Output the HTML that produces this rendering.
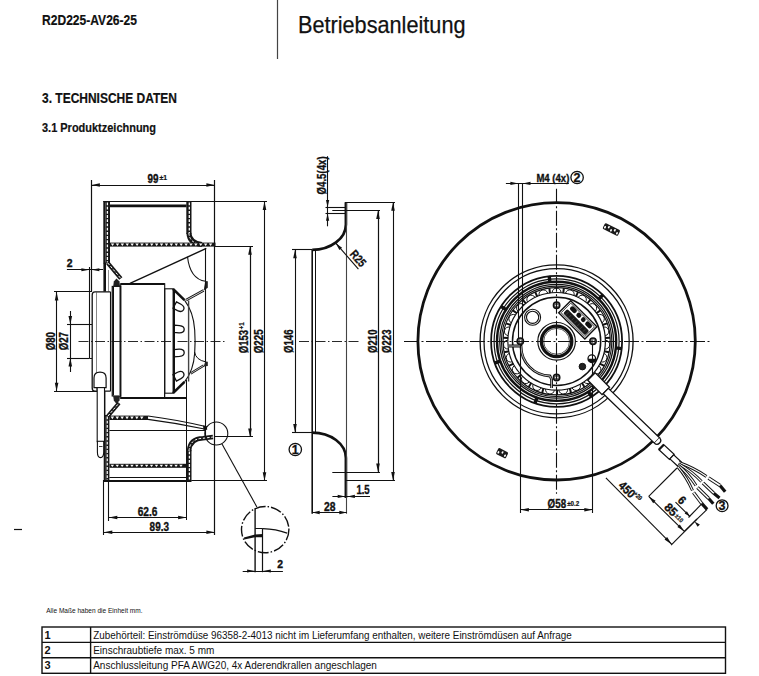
<!DOCTYPE html>
<html><head><meta charset="utf-8"><style>
html,body{margin:0;padding:0;background:#fff;overflow:hidden;}
svg{display:block;font-family:"Liberation Sans",sans-serif;}
</style></head><body>
<svg width="759" height="676" viewBox="0 0 759 676" fill="#111">
<text x="42" y="25" font-size="14" font-weight="bold" textLength="95" lengthAdjust="spacingAndGlyphs" stroke="#111" stroke-width="0.2">R2D225-AV26-25</text>
<line x1="277.50" y1="0.00" x2="277.50" y2="59.00" stroke="#444" stroke-width="1.2" />
<text x="298" y="33" font-size="24" textLength="167.5" lengthAdjust="spacingAndGlyphs" stroke="#111" stroke-width="0.25">Betriebsanleitung</text>
<text x="42" y="102.8" font-size="13.8" font-weight="bold" textLength="135" lengthAdjust="spacingAndGlyphs" stroke="#111" stroke-width="0.2">3. TECHNISCHE DATEN</text>
<text x="42" y="132.4" font-size="12.4" font-weight="bold" textLength="114" lengthAdjust="spacingAndGlyphs" stroke="#111" stroke-width="0.2">3.1 Produktzeichnung</text>
<line x1="91.50" y1="180.00" x2="91.50" y2="292.00" stroke="#111" stroke-width="1.2" />
<line x1="214.50" y1="180.00" x2="214.50" y2="535.00" stroke="#111" stroke-width="1.2" />
<line x1="91.40" y1="185.50" x2="214.90" y2="185.50" stroke="#111" stroke-width="1.1" />
<polygon points="91.40,185.00 99.90,183.20 99.90,186.80" fill="#111"/>
<polygon points="214.90,185.00 206.40,186.80 206.40,183.20" fill="#111"/>
<text x="147.6" y="182.5" font-size="12" font-weight="bold" text-anchor="start" textLength="11" lengthAdjust="spacingAndGlyphs" stroke="#111" stroke-width="0.35">99</text>
<text x="159.6" y="179.6" font-size="6.5" font-weight="bold" text-anchor="start" textLength="7.6" lengthAdjust="spacingAndGlyphs" stroke="#111" stroke-width="0.2">±1</text>
<line x1="103.30" y1="201.50" x2="267.00" y2="201.50" stroke="#111" stroke-width="1.2" />
<line x1="110.00" y1="205.80" x2="186.50" y2="205.80" stroke="#111" stroke-width="2.8" />
<rect x="103.3" y="201" width="6.70" height="62.50" fill="#161616"/>
<line x1="107.40" y1="202.50" x2="107.40" y2="262.50" stroke="#fff" stroke-width="1.3" stroke-dasharray="2.8 1.4"/>
<line x1="105.60" y1="202.50" x2="105.60" y2="262.50" stroke="#666" stroke-width="0.8"/>
<line x1="104.70" y1="263.00" x2="104.70" y2="291.60" stroke="#111" stroke-width="2.6" />
<line x1="108.50" y1="270.00" x2="108.50" y2="291.60" stroke="#777" stroke-width="0.8" />
<path d="M107.8,263 L120.8,278.5" fill="none" stroke="#161616" stroke-width="4.2"/>
<path d="M107.8,263 L120.8,278.5" fill="none" stroke="#fff" stroke-width="1" stroke-dasharray="2.6 1.6"/>
<path d="M113.2,286.2 L113.8,281.5 L116.5,278.5 L119.5,281.5 L120,286.2 Z" fill="#222"/>
<rect x="186.3" y="201" width="5.20" height="33.00" fill="#161616"/>
<line x1="189.30" y1="202.50" x2="189.30" y2="233.00" stroke="#fff" stroke-width="1.3" stroke-dasharray="2.8 1.4"/>
<path d="M188.9,233 Q189.5,243.5 202,244.5" fill="none" stroke="#161616" stroke-width="5"/>
<path d="M188.9,233 Q189.5,243.5 202,244.5" fill="none" stroke="#fff" stroke-width="1" stroke-dasharray="2.6 1.6"/>
<rect x="109.6" y="242.6" width="105.90" height="4.00" fill="#161616"/>
<polygon points="110.80,243.50 114.30,243.50 112.55,245.90" fill="#fff"/>
<polygon points="115.70,243.50 119.20,243.50 117.45,245.90" fill="#fff"/>
<polygon points="120.60,243.50 124.10,243.50 122.35,245.90" fill="#fff"/>
<polygon points="125.50,243.50 129.00,243.50 127.25,245.90" fill="#fff"/>
<polygon points="130.40,243.50 133.90,243.50 132.15,245.90" fill="#fff"/>
<polygon points="135.30,243.50 138.80,243.50 137.05,245.90" fill="#fff"/>
<polygon points="140.20,243.50 143.70,243.50 141.95,245.90" fill="#fff"/>
<polygon points="145.10,243.50 148.60,243.50 146.85,245.90" fill="#fff"/>
<polygon points="150.00,243.50 153.50,243.50 151.75,245.90" fill="#fff"/>
<polygon points="154.90,243.50 158.40,243.50 156.65,245.90" fill="#fff"/>
<polygon points="159.80,243.50 163.30,243.50 161.55,245.90" fill="#fff"/>
<polygon points="164.70,243.50 168.20,243.50 166.45,245.90" fill="#fff"/>
<polygon points="169.60,243.50 173.10,243.50 171.35,245.90" fill="#fff"/>
<polygon points="174.50,243.50 178.00,243.50 176.25,245.90" fill="#fff"/>
<polygon points="179.40,243.50 182.90,243.50 181.15,245.90" fill="#fff"/>
<polygon points="184.30,243.50 187.80,243.50 186.05,245.90" fill="#fff"/>
<polygon points="189.20,243.50 192.70,243.50 190.95,245.90" fill="#fff"/>
<polygon points="194.10,243.50 197.60,243.50 195.85,245.90" fill="#fff"/>
<polygon points="199.00,243.50 202.50,243.50 200.75,245.90" fill="#fff"/>
<polygon points="203.90,243.50 207.40,243.50 205.65,245.90" fill="#fff"/>
<polygon points="208.80,243.50 212.30,243.50 210.55,245.90" fill="#fff"/>
<line x1="130.00" y1="283.40" x2="206.30" y2="248.40" stroke="#111" stroke-width="1.4" />
<path d="M187.5,256.7 Q190,279 205.5,281.3" fill="none" stroke="#111" stroke-width="1.1" />
<polygon points="205.3,281 207.8,281.3 207.8,287.7 203.7,290.6" fill="#222"/>
<polyline points="203.70,290.40 186.00,300.20" fill="none" stroke="#111" stroke-width="2.6" />
<line x1="203.70" y1="290.40" x2="186.00" y2="300.20" stroke="#fff" stroke-width="0.8" />
<line x1="205.50" y1="248.00" x2="205.50" y2="437.00" stroke="#111" stroke-width="1.1" />
<line x1="215.00" y1="246.50" x2="253.00" y2="246.50" stroke="#111" stroke-width="1.1" />
<path d="M110.5,291.9 L95,291.9 Q92.2,291.9 92.2,295 L92.2,388 Q92.2,391.2 95,391.2 L110.5,391.2" fill="none" stroke="#111" stroke-width="1.3" />
<line x1="110.50" y1="291.90" x2="110.50" y2="391.20" stroke="#111" stroke-width="1.1" />
<line x1="96.50" y1="292.00" x2="96.50" y2="391.00" stroke="#555" stroke-width="0.7" />
<line x1="89.50" y1="267.00" x2="89.50" y2="358.30" stroke="#111" stroke-width="1.1" />
<line x1="89.40" y1="324.50" x2="92.00" y2="324.50" stroke="#111" stroke-width="1" />
<line x1="89.40" y1="358.50" x2="92.00" y2="358.50" stroke="#111" stroke-width="1" />
<rect x="112.2" y="286.4" width="8.5" height="109.6" fill="none" stroke="#111" stroke-width="1.1"/>
<line x1="113.20" y1="287.00" x2="113.20" y2="395.50" stroke="#111" stroke-width="1.6" />
<line x1="119.50" y1="287.00" x2="119.50" y2="395.50" stroke="#555" stroke-width="0.7" />
<rect x="120.7" y="283.8" width="44" height="114.6" fill="none" stroke="#111" stroke-width="1.1"/>
<line x1="120.70" y1="284.00" x2="164.70" y2="284.00" stroke="#111" stroke-width="2" />
<line x1="120.70" y1="398.00" x2="186.00" y2="398.00" stroke="#111" stroke-width="1.8" />
<rect x="164.7" y="288.8" width="8.4" height="104.4" fill="none" stroke="#111" stroke-width="1.1"/>
<line x1="174.00" y1="289.00" x2="174.00" y2="393.00" stroke="#111" stroke-width="2" />
<path d="M173,288.8 L184.5,300.2" fill="none" stroke="#111" stroke-width="2.6" />
<path d="M173,393.2 L184.5,381.8" fill="none" stroke="#111" stroke-width="2.6" />
<path d="M184.5,300.2 Q193.5,312 194.7,330 Q195.5,341.5 194.7,353 Q193.5,371 184.5,381.8" fill="none" stroke="#111" stroke-width="1.1" />
<line x1="188.60" y1="300.50" x2="188.60" y2="381.50" stroke="#444" stroke-width="1.4" />
<g transform="translate(179,307.3) rotate(28)"><path d="M-4.8,-3.6 L0.3,-3.6 Q5.2,-3.4 5.2,0 Q5.2,3.4 0.3,3.6 L-4.8,3.6 Z" fill="none" stroke="#111" stroke-width="1.3"/></g>
<g transform="translate(179,329.2) rotate(5)"><path d="M-4.8,-3.6 L0.3,-3.6 Q5.2,-3.4 5.2,0 Q5.2,3.4 0.3,3.6 L-4.8,3.6 Z" fill="none" stroke="#111" stroke-width="1.3"/></g>
<g transform="translate(179,352.8) rotate(-5)"><path d="M-4.8,-3.6 L0.3,-3.6 Q5.2,-3.4 5.2,0 Q5.2,3.4 0.3,3.6 L-4.8,3.6 Z" fill="none" stroke="#111" stroke-width="1.3"/></g>
<g transform="translate(179,375.6) rotate(-28)"><path d="M-4.8,-3.6 L0.3,-3.6 Q5.2,-3.4 5.2,0 Q5.2,3.4 0.3,3.6 L-4.8,3.6 Z" fill="none" stroke="#111" stroke-width="1.3"/></g>
<polygon points="205.3,361.5 207.8,361.8 207.8,366 203.7,366.5" fill="#222"/>
<polyline points="203.70,365.50 190.60,373.50" fill="none" stroke="#111" stroke-width="2.4" />
<line x1="203.70" y1="365.50" x2="190.60" y2="373.50" stroke="#fff" stroke-width="0.7" />
<path d="M194.5,352 Q196,360 205.5,361.8" fill="none" stroke="#111" stroke-width="1" />
<line x1="104.70" y1="391.20" x2="104.70" y2="416.00" stroke="#111" stroke-width="1.4" />
<rect x="103.7" y="415" width="5.70" height="66.00" fill="#161616"/>
<line x1="107.20" y1="416.50" x2="107.20" y2="480.00" stroke="#fff" stroke-width="1.3" stroke-dasharray="2.8 1.4"/>
<line x1="106.00" y1="416.50" x2="106.00" y2="480.00" stroke="#666" stroke-width="0.8"/>
<path d="M108,416 L119,403" fill="none" stroke="#161616" stroke-width="4"/>
<path d="M108,416 L119,403" fill="none" stroke="#fff" stroke-width="1" stroke-dasharray="2.6 1.6"/>
<path d="M113.2,396 L113.8,400.5 L116.5,404 L119.5,400.5 L120,396 Z" fill="#222"/>
<rect x="109.4" y="415.6" width="38.60" height="4.40" fill="#161616"/>
<polygon points="110.60,416.50 114.10,416.50 112.35,419.30" fill="#fff"/>
<polygon points="115.50,416.50 119.00,416.50 117.25,419.30" fill="#fff"/>
<polygon points="120.40,416.50 123.90,416.50 122.15,419.30" fill="#fff"/>
<polygon points="125.30,416.50 128.80,416.50 127.05,419.30" fill="#fff"/>
<polygon points="130.20,416.50 133.70,416.50 131.95,419.30" fill="#fff"/>
<polygon points="135.10,416.50 138.60,416.50 136.85,419.30" fill="#fff"/>
<polygon points="140.00,416.50 143.50,416.50 141.75,419.30" fill="#fff"/>
<path d="M148,416 Q175,419.5 204.5,426.2" fill="none" stroke="#111" stroke-width="1.1" />
<path d="M148,419.4 Q176,423 204.5,429" fill="none" stroke="#111" stroke-width="1.1" />
<path d="M203,425.6 L206.8,426 L207.2,429.8 L203.5,430 Z" fill="#111"/>
<line x1="109.40" y1="430.50" x2="205.80" y2="430.50" stroke="#111" stroke-width="1.1" />
<rect x="109.4" y="463.8" width="78.00" height="4.00" fill="#161616"/>
<polygon points="110.60,464.70 114.10,464.70 112.35,467.10" fill="#fff"/>
<polygon points="115.50,464.70 119.00,464.70 117.25,467.10" fill="#fff"/>
<polygon points="120.40,464.70 123.90,464.70 122.15,467.10" fill="#fff"/>
<polygon points="125.30,464.70 128.80,464.70 127.05,467.10" fill="#fff"/>
<polygon points="130.20,464.70 133.70,464.70 131.95,467.10" fill="#fff"/>
<polygon points="135.10,464.70 138.60,464.70 136.85,467.10" fill="#fff"/>
<polygon points="140.00,464.70 143.50,464.70 141.75,467.10" fill="#fff"/>
<polygon points="144.90,464.70 148.40,464.70 146.65,467.10" fill="#fff"/>
<polygon points="149.80,464.70 153.30,464.70 151.55,467.10" fill="#fff"/>
<polygon points="154.70,464.70 158.20,464.70 156.45,467.10" fill="#fff"/>
<polygon points="159.60,464.70 163.10,464.70 161.35,467.10" fill="#fff"/>
<polygon points="164.50,464.70 168.00,464.70 166.25,467.10" fill="#fff"/>
<polygon points="169.40,464.70 172.90,464.70 171.15,467.10" fill="#fff"/>
<polygon points="174.30,464.70 177.80,464.70 176.05,467.10" fill="#fff"/>
<polygon points="179.20,464.70 182.70,464.70 180.95,467.10" fill="#fff"/>
<line x1="109.40" y1="477.50" x2="187.00" y2="477.50" stroke="#111" stroke-width="1.1" />
<line x1="103.70" y1="481.00" x2="191.50" y2="481.00" stroke="#111" stroke-width="1.8" />
<line x1="191.50" y1="480.50" x2="267.00" y2="480.50" stroke="#111" stroke-width="1.1" />
<line x1="186.50" y1="380.00" x2="186.50" y2="520.00" stroke="#111" stroke-width="1" />
<line x1="164.50" y1="393.00" x2="164.50" y2="398.40" stroke="#111" stroke-width="1" />
<rect x="186.5" y="450" width="5.00" height="31.00" fill="#161616"/>
<line x1="189.40" y1="451.50" x2="189.40" y2="480.00" stroke="#fff" stroke-width="1.3" stroke-dasharray="2.8 1.4"/>
<path d="M189,451 Q190,438.5 203,438.3 L213,437" fill="none" stroke="#161616" stroke-width="4.6"/>
<path d="M189,451 Q190,438.5 203,438.3 L213,437" fill="none" stroke="#fff" stroke-width="1" stroke-dasharray="2.6 1.6"/>
<path d="M94,387.6 L94,378 Q94,372.2 100,372.2 Q106.1,372.2 106.1,378 L106.1,387.6 Z" fill="#fff" stroke="#111" stroke-width="1.2"/>
<rect x="97.2" y="387.6" width="7.3" height="54" fill="#fff" stroke="#111" stroke-width="1.1"/>
<path d="M97.4,441.3 L97.4,452 Q97.4,457.6 100.5,457.6 Q103.7,457.6 103.7,452 L103.7,441.3 Z" fill="#fff" stroke="#111" stroke-width="1.1"/>
<line x1="99.00" y1="446.50" x2="102.50" y2="446.50" stroke="#111" stroke-width="0.8" />
<line x1="78.50" y1="341.50" x2="226.00" y2="341.50" stroke="#111" stroke-width="0.9" stroke-dasharray="10 2.5 1.5 2.5"/>
<line x1="66.90" y1="269.50" x2="103.00" y2="269.50" stroke="#111" stroke-width="1.1" />
<polygon points="89.40,269.80 81.40,271.30 81.40,268.30" fill="#111"/>
<polygon points="91.40,269.80 99.40,268.30 99.40,271.30" fill="#111"/>
<text x="66.7" y="267.4" font-size="11" font-weight="bold" text-anchor="start" textLength="5.8" lengthAdjust="spacingAndGlyphs" stroke="#111" stroke-width="0.35">2</text>
<line x1="54.00" y1="291.50" x2="92.00" y2="291.50" stroke="#111" stroke-width="1.1" />
<line x1="54.00" y1="391.50" x2="97.00" y2="391.50" stroke="#111" stroke-width="1.1" />
<line x1="56.50" y1="291.90" x2="56.50" y2="391.20" stroke="#111" stroke-width="1.1" />
<polygon points="56.60,291.90 58.40,300.40 54.80,300.40" fill="#111"/>
<polygon points="56.60,391.20 54.80,382.70 58.40,382.70" fill="#111"/>
<line x1="67.00" y1="324.50" x2="89.40" y2="324.50" stroke="#111" stroke-width="1.1" />
<line x1="67.00" y1="358.50" x2="89.40" y2="358.50" stroke="#111" stroke-width="1.1" />
<line x1="70.50" y1="311.00" x2="70.50" y2="372.00" stroke="#111" stroke-width="1.1" />
<polygon points="70.30,324.50 68.50,316.00 72.10,316.00" fill="#111"/>
<polygon points="70.30,358.10 72.10,366.60 68.50,366.60" fill="#111"/>
<text x="54.8" y="350.3" font-size="12" font-weight="bold" text-anchor="start" textLength="18.3" lengthAdjust="spacingAndGlyphs" transform="rotate(-90 54.8 350.3)" stroke="#111" stroke-width="0.35">Ø80</text>
<text x="68.5" y="350.3" font-size="12" font-weight="bold" text-anchor="start" textLength="18.3" lengthAdjust="spacingAndGlyphs" transform="rotate(-90 68.5 350.3)" stroke="#111" stroke-width="0.35">Ø27</text>
<line x1="250.50" y1="246.30" x2="250.50" y2="436.90" stroke="#111" stroke-width="1.2" />
<polygon points="250.00,246.30 251.80,254.80 248.20,254.80" fill="#111"/>
<polygon points="250.00,436.90 248.20,428.40 251.80,428.40" fill="#111"/>
<line x1="215.00" y1="436.50" x2="253.00" y2="436.50" stroke="#111" stroke-width="1.1" />
<line x1="264.50" y1="201.50" x2="264.50" y2="480.70" stroke="#111" stroke-width="1.1" />
<polygon points="264.50,201.50 266.30,210.00 262.70,210.00" fill="#111"/>
<polygon points="264.50,480.70 262.70,472.20 266.30,472.20" fill="#111"/>
<text x="248.1" y="353.3" font-size="12" font-weight="bold" text-anchor="start" textLength="23.4" lengthAdjust="spacingAndGlyphs" transform="rotate(-90 248.1 353.3)" stroke="#111" stroke-width="0.35">Ø153</text>
<text x="244.2" y="329.4" font-size="6.5" font-weight="bold" text-anchor="start" textLength="7.2" lengthAdjust="spacingAndGlyphs" transform="rotate(-90 244.2 329.4)" stroke="#111" stroke-width="0.2">+1</text>
<text x="263" y="353.3" font-size="12" font-weight="bold" text-anchor="start" textLength="24" lengthAdjust="spacingAndGlyphs" transform="rotate(-90 263 353.3)" stroke="#111" stroke-width="0.35">Ø225</text>
<circle cx="216.30" cy="433.50" r="11.50" fill="none" stroke="#111" stroke-width="1.1" />
<line x1="222.00" y1="444.00" x2="256.90" y2="507.10" stroke="#111" stroke-width="1.1" />
<line x1="103.50" y1="480.00" x2="103.50" y2="535.00" stroke="#111" stroke-width="1.1" />
<line x1="108.50" y1="480.00" x2="108.50" y2="521.00" stroke="#111" stroke-width="1.1" />
<line x1="108.80" y1="517.50" x2="186.60" y2="517.50" stroke="#111" stroke-width="1.1" />
<polygon points="108.80,517.50 117.30,515.70 117.30,519.30" fill="#111"/>
<polygon points="186.60,517.50 178.10,519.30 178.10,515.70" fill="#111"/>
<line x1="103.80" y1="532.50" x2="214.90" y2="532.50" stroke="#111" stroke-width="1.1" />
<polygon points="103.80,532.30 112.30,530.50 112.30,534.10" fill="#111"/>
<polygon points="214.90,532.30 206.40,534.10 206.40,530.50" fill="#111"/>
<text x="137.7" y="515.5" font-size="12" font-weight="bold" text-anchor="start" textLength="19.8" lengthAdjust="spacingAndGlyphs" stroke="#111" stroke-width="0.35">62.6</text>
<text x="149.6" y="530.6" font-size="12" font-weight="bold" text-anchor="start" textLength="19.4" lengthAdjust="spacingAndGlyphs" stroke="#111" stroke-width="0.35">89.3</text>
<ellipse cx="265.2" cy="529.6" rx="23.7" ry="23.1" fill="none" stroke="#111" stroke-width="1.4" stroke-dasharray="11 2 1.5 2"/>
<line x1="255.10" y1="508.30" x2="255.10" y2="572.20" stroke="#111" stroke-width="1.4" />
<line x1="262.50" y1="528.60" x2="262.50" y2="572.20" stroke="#111" stroke-width="1.2" />
<line x1="255.10" y1="528.50" x2="262.80" y2="528.50" stroke="#111" stroke-width="1" />
<path d="M262.8,528.6 Q276,529 287.1,533.1" fill="none" stroke="#111" stroke-width="1.2" />
<polygon points="243.9,537.6 255,534.4 262.8,534 262.8,537.2 255,537.3 244.3,539.6" fill="#111"/>
<line x1="242.70" y1="571.50" x2="282.90" y2="571.50" stroke="#111" stroke-width="1.1" />
<polygon points="255.10,571.00 247.10,572.50 247.10,569.50" fill="#111"/>
<polygon points="262.80,571.00 270.80,569.50 270.80,572.50" fill="#111"/>
<text x="277.3" y="568.4" font-size="11" font-weight="bold" text-anchor="start" textLength="5.8" lengthAdjust="spacingAndGlyphs" stroke="#111" stroke-width="0.35">2</text>
<line x1="14.00" y1="529.50" x2="22.00" y2="529.50" stroke="#111" stroke-width="1.2" />
<path d="M345.9,202.3 L345.9,224.4 A33.7,25.4 0 0 1 312.2,249.8" fill="none" stroke="#111" stroke-width="2.7" />
<path d="M312.2,432.6 A33.7,25.4 0 0 1 345.9,458 L345.9,498" fill="none" stroke="#111" stroke-width="2.7" />
<line x1="346.50" y1="202.00" x2="346.50" y2="513.80" stroke="#444" stroke-width="1.1" />
<line x1="312.20" y1="249.80" x2="312.20" y2="513.80" stroke="#111" stroke-width="1.6" />
<line x1="315.50" y1="249.80" x2="315.50" y2="432.60" stroke="#111" stroke-width="1" />
<line x1="345.00" y1="202.50" x2="395.00" y2="202.50" stroke="#111" stroke-width="1" />
<line x1="345.00" y1="480.50" x2="395.00" y2="480.50" stroke="#111" stroke-width="1" />
<line x1="332.30" y1="210.50" x2="380.00" y2="210.50" stroke="#111" stroke-width="1" />
<line x1="332.30" y1="472.50" x2="380.00" y2="472.50" stroke="#111" stroke-width="1" />
<line x1="325.50" y1="207.50" x2="345.00" y2="207.50" stroke="#111" stroke-width="1.1" />
<line x1="325.50" y1="213.50" x2="345.00" y2="213.50" stroke="#111" stroke-width="1.1" />
<line x1="292.00" y1="249.50" x2="312.20" y2="249.50" stroke="#111" stroke-width="1.1" />
<line x1="292.00" y1="432.50" x2="312.20" y2="432.50" stroke="#111" stroke-width="1.1" />
<line x1="295.50" y1="249.80" x2="295.50" y2="432.60" stroke="#111" stroke-width="1.1" />
<polygon points="295.00,249.80 296.80,258.30 293.20,258.30" fill="#111"/>
<polygon points="295.00,432.60 293.20,424.10 296.80,424.10" fill="#111"/>
<line x1="378.50" y1="210.40" x2="378.50" y2="472.00" stroke="#111" stroke-width="1.2" />
<polygon points="378.00,210.40 379.80,218.90 376.20,218.90" fill="#111"/>
<polygon points="378.00,472.00 376.20,463.50 379.80,463.50" fill="#111"/>
<line x1="393.50" y1="202.30" x2="393.50" y2="480.60" stroke="#111" stroke-width="1.1" />
<polygon points="393.00,202.30 394.80,210.80 391.20,210.80" fill="#111"/>
<polygon points="393.00,480.60 391.20,472.10 394.80,472.10" fill="#111"/>
<text x="292.8" y="352.9" font-size="12" font-weight="bold" text-anchor="start" textLength="23.4" lengthAdjust="spacingAndGlyphs" transform="rotate(-90 292.8 352.9)" stroke="#111" stroke-width="0.35">Ø146</text>
<text x="376.6" y="352.9" font-size="12" font-weight="bold" text-anchor="start" textLength="23.4" lengthAdjust="spacingAndGlyphs" transform="rotate(-90 376.6 352.9)" stroke="#111" stroke-width="0.35">Ø210</text>
<text x="390.9" y="352.9" font-size="12" font-weight="bold" text-anchor="start" textLength="23.4" lengthAdjust="spacingAndGlyphs" transform="rotate(-90 390.9 352.9)" stroke="#111" stroke-width="0.35">Ø223</text>
<line x1="299.00" y1="341.50" x2="359.80" y2="341.50" stroke="#111" stroke-width="0.9" stroke-dasharray="10 2.5 1.5 2.5"/>
<line x1="327.50" y1="156.20" x2="327.50" y2="226.30" stroke="#111" stroke-width="1.1" />
<polygon points="327.60,207.50 326.00,200.00 329.20,200.00" fill="#111"/>
<polygon points="327.60,213.20 329.20,220.70 326.00,220.70" fill="#111"/>
<text x="326.5" y="194.4" font-size="12" font-weight="bold" text-anchor="start" textLength="38" lengthAdjust="spacingAndGlyphs" transform="rotate(-90 326.5 194.4)" stroke="#111" stroke-width="0.35">Ø4.5(4x)</text>
<line x1="335.80" y1="243.20" x2="358.40" y2="269.10" stroke="#111" stroke-width="1.1" />
<polygon points="335.80,243.20 342.09,247.67 339.37,250.04" fill="#111"/>
<text x="349.3" y="254.5" font-size="12" font-weight="bold" text-anchor="start" textLength="17.5" lengthAdjust="spacingAndGlyphs" transform="rotate(48.9 349.3 254.5)" stroke="#111" stroke-width="0.35">R25</text>
<line x1="332.40" y1="496.50" x2="370.00" y2="496.50" stroke="#111" stroke-width="1.1" />
<polygon points="345.20,496.40 337.70,498.00 337.70,494.80" fill="#111"/>
<polygon points="347.40,496.40 354.90,494.80 354.90,498.00" fill="#111"/>
<text x="356.4" y="494.3" font-size="12" font-weight="bold" text-anchor="start" textLength="13.3" lengthAdjust="spacingAndGlyphs" stroke="#111" stroke-width="0.35">1.5</text>
<line x1="312.20" y1="512.50" x2="346.80" y2="512.50" stroke="#111" stroke-width="1.1" />
<polygon points="312.20,512.50 319.70,510.80 319.70,514.20" fill="#111"/>
<polygon points="346.80,512.50 339.30,514.20 339.30,510.80" fill="#111"/>
<text x="323.9" y="510.5" font-size="12" font-weight="bold" text-anchor="start" textLength="11.5" lengthAdjust="spacingAndGlyphs" stroke="#111" stroke-width="0.35">28</text>
<circle cx="295.30" cy="449.50" r="6.20" fill="none" stroke="#111" stroke-width="1.3" />
<text x="295.3" y="453.9" font-size="12.5" font-weight="bold" text-anchor="middle" stroke="#111" stroke-width="0.3">1</text>
<circle cx="556.60" cy="341.30" r="138.70" fill="none" stroke="#111" stroke-width="2.8" />
<circle cx="556.60" cy="341.30" r="76.50" fill="none" stroke="#111" stroke-width="1.35" />
<circle cx="556.60" cy="341.30" r="72.60" fill="none" stroke="#111" stroke-width="1.25" />
<circle cx="556.60" cy="341.30" r="65.50" fill="none" stroke="#111" stroke-width="1.8" />
<circle cx="556.60" cy="341.30" r="62.50" fill="none" stroke="#111" stroke-width="1.2" />
<circle cx="556.60" cy="341.30" r="59.60" fill="none" stroke="#111" stroke-width="2.4" />
<circle cx="556.60" cy="341.30" r="56.90" fill="none" stroke="#111" stroke-width="1.3" />
<circle cx="556.60" cy="341.30" r="55.20" fill="none" stroke="#111" stroke-width="1.1" />
<circle cx="556.60" cy="341.30" r="53.60" fill="none" stroke="#111" stroke-width="1.2" />
<circle cx="556.60" cy="341.30" r="48.80" fill="none" stroke="#111" stroke-width="1.2" />
<circle cx="556.60" cy="341.30" r="44.10" fill="none" stroke="#111" stroke-width="1.5" />
<line x1="557.00" y1="389.90" x2="557.00" y2="394.90" stroke="#111" stroke-width="2.0" />
<path d="M554.32,390.25 A3.6,3.6 0 0 1 545.59,389.05" fill="none" stroke="#111" stroke-width="1.0" />
<line x1="543.49" y1="388.10" x2="542.14" y2="392.91" stroke="#111" stroke-width="2.0" />
<path d="M541.20,387.82 A3.6,3.6 0 0 1 533.12,384.31" fill="none" stroke="#111" stroke-width="1.0" />
<line x1="531.35" y1="382.82" x2="528.75" y2="387.10" stroke="#111" stroke-width="2.0" />
<path d="M529.22,381.94 A3.6,3.6 0 0 1 522.39,376.38" fill="none" stroke="#111" stroke-width="1.0" />
<line x1="521.08" y1="374.47" x2="517.43" y2="377.88" stroke="#111" stroke-width="2.0" />
<path d="M519.27,373.04 A3.6,3.6 0 0 1 514.19,365.84" fill="none" stroke="#111" stroke-width="1.0" />
<line x1="513.45" y1="363.66" x2="509.01" y2="365.96" stroke="#111" stroke-width="2.0" />
<path d="M512.09,361.79 A3.6,3.6 0 0 1 509.14,353.49" fill="none" stroke="#111" stroke-width="1.0" />
<line x1="509.02" y1="351.19" x2="504.12" y2="352.21" stroke="#111" stroke-width="2.0" />
<path d="M508.21,349.02 A3.6,3.6 0 0 1 507.61,340.24" fill="none" stroke="#111" stroke-width="1.0" />
<line x1="508.11" y1="337.98" x2="503.12" y2="337.64" stroke="#111" stroke-width="2.0" />
<path d="M507.92,335.68 A3.6,3.6 0 0 1 509.72,327.06" fill="none" stroke="#111" stroke-width="1.0" />
<line x1="510.81" y1="325.02" x2="506.09" y2="323.35" stroke="#111" stroke-width="2.0" />
<path d="M511.24,322.76 A3.6,3.6 0 0 1 515.30,314.94" fill="none" stroke="#111" stroke-width="1.0" />
<line x1="516.90" y1="313.27" x2="512.81" y2="310.39" stroke="#111" stroke-width="2.0" />
<path d="M517.93,311.21 A3.6,3.6 0 0 1 523.94,304.77" fill="none" stroke="#111" stroke-width="1.0" />
<line x1="525.93" y1="303.60" x2="522.77" y2="299.72" stroke="#111" stroke-width="2.0" />
<path d="M527.48,301.89 A3.6,3.6 0 0 1 535.01,297.31" fill="none" stroke="#111" stroke-width="1.0" />
<line x1="537.24" y1="296.72" x2="535.25" y2="292.14" stroke="#111" stroke-width="2.0" />
<path d="M539.19,295.50 A3.6,3.6 0 0 1 547.67,293.12" fill="none" stroke="#111" stroke-width="1.0" />
<line x1="549.98" y1="293.15" x2="549.30" y2="288.20" stroke="#111" stroke-width="2.0" />
<path d="M552.20,292.50 A3.6,3.6 0 0 1 561.00,292.50" fill="none" stroke="#111" stroke-width="1.0" />
<line x1="563.22" y1="293.15" x2="563.90" y2="288.20" stroke="#111" stroke-width="2.0" />
<path d="M565.53,293.12 A3.6,3.6 0 0 1 574.01,295.50" fill="none" stroke="#111" stroke-width="1.0" />
<line x1="575.96" y1="296.72" x2="577.95" y2="292.14" stroke="#111" stroke-width="2.0" />
<path d="M578.19,297.31 A3.6,3.6 0 0 1 585.72,301.89" fill="none" stroke="#111" stroke-width="1.0" />
<line x1="587.27" y1="303.60" x2="590.43" y2="299.72" stroke="#111" stroke-width="2.0" />
<path d="M589.26,304.77 A3.6,3.6 0 0 1 595.27,311.21" fill="none" stroke="#111" stroke-width="1.0" />
<line x1="596.30" y1="313.27" x2="600.39" y2="310.39" stroke="#111" stroke-width="2.0" />
<path d="M597.90,314.94 A3.6,3.6 0 0 1 601.96,322.76" fill="none" stroke="#111" stroke-width="1.0" />
<line x1="602.39" y1="325.02" x2="607.11" y2="323.35" stroke="#111" stroke-width="2.0" />
<path d="M603.48,327.06 A3.6,3.6 0 0 1 605.28,335.68" fill="none" stroke="#111" stroke-width="1.0" />
<line x1="605.09" y1="337.98" x2="610.08" y2="337.64" stroke="#111" stroke-width="2.0" />
<path d="M605.59,340.24 A3.6,3.6 0 0 1 604.99,349.02" fill="none" stroke="#111" stroke-width="1.0" />
<line x1="604.18" y1="351.19" x2="609.08" y2="352.21" stroke="#111" stroke-width="2.0" />
<path d="M604.06,353.49 A3.6,3.6 0 0 1 601.11,361.79" fill="none" stroke="#111" stroke-width="1.0" />
<line x1="599.75" y1="363.66" x2="604.19" y2="365.96" stroke="#111" stroke-width="2.0" />
<path d="M599.01,365.84 A3.6,3.6 0 0 1 593.93,373.04" fill="none" stroke="#111" stroke-width="1.0" />
<line x1="592.12" y1="374.47" x2="595.77" y2="377.88" stroke="#111" stroke-width="2.0" />
<path d="M590.81,376.38 A3.6,3.6 0 0 1 583.98,381.94" fill="none" stroke="#111" stroke-width="1.0" />
<line x1="581.85" y1="382.82" x2="584.45" y2="387.10" stroke="#111" stroke-width="2.0" />
<path d="M580.08,384.31 A3.6,3.6 0 0 1 572.00,387.82" fill="none" stroke="#111" stroke-width="1.0" />
<line x1="569.71" y1="388.10" x2="571.06" y2="392.91" stroke="#111" stroke-width="2.0" />
<path d="M567.61,389.05 A3.6,3.6 0 0 1 558.88,390.25" fill="none" stroke="#111" stroke-width="1.0" />
<rect x="-1.7" y="-3.4" width="3.4" height="6.8" fill="#111" transform="translate(549.55,279.40) rotate(-6.5)"/>
<rect x="-1.7" y="-3.4" width="3.4" height="6.8" fill="#111" transform="translate(600.60,297.19) rotate(44.9)"/>
<rect x="-1.7" y="-3.4" width="3.4" height="6.8" fill="#111" transform="translate(618.52,348.20) rotate(96.4)"/>
<rect x="-1.7" y="-3.4" width="3.4" height="6.8" fill="#111" transform="translate(589.81,394.01) rotate(147.8)"/>
<rect x="-1.7" y="-3.4" width="3.4" height="6.8" fill="#111" transform="translate(536.09,400.13) rotate(199.2)"/>
<rect x="-1.7" y="-3.4" width="3.4" height="6.8" fill="#111" transform="translate(497.82,361.94) rotate(250.6)"/>
<rect x="-1.7" y="-3.4" width="3.4" height="6.8" fill="#111" transform="translate(503.81,308.21) rotate(302.1)"/>
<circle cx="556.60" cy="341.30" r="18.80" fill="none" stroke="#111" stroke-width="1.2" />
<circle cx="556.60" cy="341.30" r="15.20" fill="none" stroke="#111" stroke-width="3.3" />
<circle cx="556.60" cy="341.30" r="12.90" fill="none" stroke="#111" stroke-width="0.7" />
<circle cx="532.60" cy="317.30" r="8.00" fill="none" stroke="#111" stroke-width="1.1" />
<circle cx="532.60" cy="317.30" r="6.10" fill="none" stroke="#111" stroke-width="1.1" />
<circle cx="556.60" cy="305.20" r="3.20" fill="#777" stroke="#111" stroke-width="1.5" />
<line x1="555.00" y1="305.50" x2="558.20" y2="305.50" stroke="#fff" stroke-width="0.8" />
<line x1="556.50" y1="303.60" x2="556.50" y2="306.80" stroke="#fff" stroke-width="0.8" />
<circle cx="520.30" cy="341.30" r="3.20" fill="#777" stroke="#111" stroke-width="1.5" />
<line x1="518.70" y1="341.50" x2="521.90" y2="341.50" stroke="#fff" stroke-width="0.8" />
<line x1="520.50" y1="339.70" x2="520.50" y2="342.90" stroke="#fff" stroke-width="0.8" />
<circle cx="593.00" cy="341.30" r="3.20" fill="#777" stroke="#111" stroke-width="1.5" />
<line x1="591.40" y1="341.50" x2="594.60" y2="341.50" stroke="#fff" stroke-width="0.8" />
<line x1="593.50" y1="339.70" x2="593.50" y2="342.90" stroke="#fff" stroke-width="0.8" />
<circle cx="556.60" cy="377.50" r="3.20" fill="#777" stroke="#111" stroke-width="1.5" />
<line x1="555.00" y1="377.50" x2="558.20" y2="377.50" stroke="#fff" stroke-width="0.8" />
<line x1="556.50" y1="375.90" x2="556.50" y2="379.10" stroke="#fff" stroke-width="0.8" />
<circle cx="591.80" cy="358.70" r="3.80" fill="none" stroke="#111" stroke-width="1.3" />
<path d="M588,358.7 A3.8,3.8 0 0 0 595.6,358.7 Z" fill="#111" stroke="#111" stroke-width="0" />
<circle cx="582.40" cy="366.60" r="3.30" fill="#222" stroke="#111" stroke-width="1" />
<g transform="translate(577.8,319.8) rotate(45)"><rect x="-18.5" y="-8.5" width="37" height="17" fill="#fff" stroke="#111" stroke-width="1.4"/><rect x="-16.8" y="-6.8" width="33.6" height="13.6" fill="none" stroke="#111" stroke-width="0.8"/><rect x="-15" y="-0.2" width="31" height="6" rx="1.5" fill="#1a1a1a"/><rect x="-14" y="-6.3" width="7.5" height="4.6" rx="2" fill="#111"/><rect x="-5" y="-6.3" width="5" height="4.6" rx="2" fill="#111"/><rect x="1.5" y="-6.3" width="4.5" height="4.6" rx="2" fill="#111"/><rect x="7.5" y="-6.3" width="7.5" height="4.6" rx="2" fill="#111"/><path d="M-12,1.2 v3.6 M-8,1.2 v3.6 M-4,1.2 v3.6 M0,1.2 v3.6 M4,1.2 v3.6 M8,1.2 v3.6 M12,1.2 v3.6" stroke="#555" stroke-width="0.6"/></g>
<path d="M508.5,346 L521,346 A30,30 0 0 0 550,376 L551.6,379.5 L551.6,388" fill="none" stroke="#111" stroke-width="2.8" />
<path d="M508.5,346 L521,346 A30,30 0 0 0 550,376 L551.6,379.5 L551.6,388" fill="none" stroke="#fff" stroke-width="0.7" />
<line x1="404.00" y1="341.50" x2="709.50" y2="341.50" stroke="#111" stroke-width="1.1" stroke-dasharray="15 2.5 2 2.5"/>
<line x1="556.50" y1="188.70" x2="556.50" y2="493.70" stroke="#111" stroke-width="1.1" stroke-dasharray="15 2.5 2 2.5"/>
<line x1="518.50" y1="183.40" x2="518.50" y2="338.00" stroke="#111" stroke-width="1.1" />
<line x1="522.50" y1="183.40" x2="522.50" y2="338.00" stroke="#111" stroke-width="1.1" />
<line x1="520.50" y1="345.00" x2="520.50" y2="513.00" stroke="#111" stroke-width="1.1" />
<line x1="592.50" y1="345.00" x2="592.50" y2="513.00" stroke="#111" stroke-width="1.1" />
<line x1="505.90" y1="183.50" x2="568.80" y2="183.50" stroke="#111" stroke-width="1.1" />
<polygon points="518.40,183.40 510.40,185.00 510.40,181.80" fill="#111"/>
<polygon points="522.50,183.40 530.50,181.80 530.50,185.00" fill="#111"/>
<text x="536.4" y="181.6" font-size="11.6" font-weight="bold" text-anchor="start" textLength="33" lengthAdjust="spacingAndGlyphs" stroke="#111" stroke-width="0.35">M4 (4x)</text>
<circle cx="577.10" cy="177.50" r="6.20" fill="none" stroke="#111" stroke-width="1.3" />
<text x="577.1" y="181.9" font-size="12.5" font-weight="bold" text-anchor="middle" stroke="#111" stroke-width="0.3">2</text>
<line x1="520.40" y1="509.50" x2="592.80" y2="509.50" stroke="#111" stroke-width="1.1" />
<polygon points="520.40,509.80 528.90,508.00 528.90,511.60" fill="#111"/>
<polygon points="592.80,509.80 584.30,511.60 584.30,508.00" fill="#111"/>
<text x="547.6" y="508" font-size="12" font-weight="bold" text-anchor="start" textLength="18.5" lengthAdjust="spacingAndGlyphs" stroke="#111" stroke-width="0.35">Ø58</text>
<text x="567.2" y="505.9" font-size="6.3" font-weight="bold" text-anchor="start" textLength="12" lengthAdjust="spacingAndGlyphs" stroke="#111" stroke-width="0.2">±0.2</text>
<g transform="translate(502.1,453.2) rotate(27)"><rect x="-5.5" y="-3.4" width="11" height="6.8" rx="1.5" fill="#1a1a1a"/>
<ellipse cx="-3.70" cy="0.9" rx="0.9" ry="1.3" fill="#fff"/>
<ellipse cx="0.00" cy="-0.9" rx="0.9" ry="1.3" fill="#fff"/>
<ellipse cx="3.70" cy="0.9" rx="0.9" ry="1.3" fill="#fff"/>
</g>
<g transform="translate(611.4,229.5) rotate(27)"><rect x="-8.5" y="-3.3" width="17" height="6.6" rx="1.5" fill="#1a1a1a"/>
<ellipse cx="-6.70" cy="0.9" rx="0.9" ry="1.3" fill="#fff"/>
<ellipse cx="-3.35" cy="-0.9" rx="0.9" ry="1.3" fill="#fff"/>
<ellipse cx="0.00" cy="0.9" rx="0.9" ry="1.3" fill="#fff"/>
<ellipse cx="3.35" cy="-0.9" rx="0.9" ry="1.3" fill="#fff"/>
<ellipse cx="6.70" cy="0.9" rx="0.9" ry="1.3" fill="#fff"/>
</g>
<polygon points="587.76,380.19 602.06,394.69 609.54,387.31 595.24,372.81" fill="#fff" stroke="#111" stroke-width="1.3" />
<polygon points="603.23,393.66 654.43,443.16 659.57,437.84 608.37,388.34" fill="#fff" stroke="#111" stroke-width="1.3" />
<path d="M654.43,443.16 A3.7,3.7 0 0 0 659.57,437.84" fill="#fff" stroke="#111" stroke-width="1.3" />
<polygon points="658.94,449.78 669.44,459.38 674.16,454.22 663.66,444.62" fill="#fff" stroke="#111" stroke-width="1.2" />
<line x1="658.80" y1="449.70" x2="663.80" y2="444.70" stroke="#111" stroke-width="2.2" />
<polygon points="669.89,458.85 677.59,466.05 681.41,461.95 673.71,454.75" fill="#fff" stroke="#111" stroke-width="1.2" />
<path d="M679,462.5 Q694.25,468.0 706.5,476.5" fill="none" stroke="#111" stroke-width="3.0" />
<path d="M679,462.5 Q694.25,468.0 706.5,476.5" fill="none" stroke="#fff" stroke-width="1.1" />
<line x1="708.50" y1="478.00" x2="720.00" y2="485.50" stroke="#111" stroke-width="3.4" />
<line x1="708.50" y1="478.00" x2="720.00" y2="485.50" stroke="#fff" stroke-width="1.5" />
<line x1="720.00" y1="485.50" x2="725.20" y2="491.80" stroke="#111" stroke-width="3.2" />
<path d="M679,464 Q691.75,471.25 701.5,481.5" fill="none" stroke="#111" stroke-width="3.0" />
<path d="M679,464 Q691.75,471.25 701.5,481.5" fill="none" stroke="#fff" stroke-width="1.1" />
<line x1="703.00" y1="483.00" x2="713.80" y2="493.30" stroke="#111" stroke-width="3.4" />
<line x1="703.00" y1="483.00" x2="713.80" y2="493.30" stroke="#fff" stroke-width="1.5" />
<line x1="713.80" y1="493.30" x2="719.50" y2="498.00" stroke="#111" stroke-width="3.2" />
<path d="M678.5,465.5 Q688.75,474.0 696,485.5" fill="none" stroke="#111" stroke-width="3.0" />
<path d="M678.5,465.5 Q688.75,474.0 696,485.5" fill="none" stroke="#fff" stroke-width="1.1" />
<line x1="697.50" y1="487.50" x2="708.70" y2="498.50" stroke="#111" stroke-width="3.4" />
<line x1="697.50" y1="487.50" x2="708.70" y2="498.50" stroke="#fff" stroke-width="1.5" />
<line x1="708.70" y1="498.50" x2="713.30" y2="503.70" stroke="#111" stroke-width="3.2" />
<path d="M678,467 Q686.75,477.25 692.5,490.5" fill="none" stroke="#111" stroke-width="3.0" />
<path d="M678,467 Q686.75,477.25 692.5,490.5" fill="none" stroke="#fff" stroke-width="1.1" />
<line x1="693.50" y1="492.50" x2="701.90" y2="503.70" stroke="#111" stroke-width="3.4" />
<line x1="693.50" y1="492.50" x2="701.90" y2="503.70" stroke="#fff" stroke-width="1.5" />
<line x1="701.90" y1="503.70" x2="707.10" y2="509.40" stroke="#111" stroke-width="3.2" />
<circle cx="722.10" cy="505.70" r="5.90" fill="none" stroke="#111" stroke-width="1.3" />
<text x="722.1" y="510.09999999999997" font-size="12.5" font-weight="bold" text-anchor="middle" stroke="#111" stroke-width="0.3">3</text>
<line x1="605.90" y1="477.90" x2="671.80" y2="544.40" stroke="#111" stroke-width="1.1" />
<polygon points="671.80,544.40 664.54,539.62 667.10,537.09" fill="#111"/>
<line x1="671.10" y1="545.10" x2="697.00" y2="519.00" stroke="#111" stroke-width="1.1" />
<line x1="648.70" y1="496.40" x2="677.00" y2="468.00" stroke="#111" stroke-width="1.1" />
<line x1="648.70" y1="496.40" x2="684.30" y2="531.30" stroke="#111" stroke-width="1.1" />
<polygon points="648.70,496.40 655.60,500.79 653.21,503.22" fill="#111"/>
<polygon points="684.30,531.30 677.40,526.91 679.79,524.48" fill="#111"/>
<text x="617.8" y="486.2" font-size="12" font-weight="bold" text-anchor="start" textLength="17.8" lengthAdjust="spacingAndGlyphs" transform="rotate(45 617.8 486.2)" stroke="#111" stroke-width="0.35">450</text>
<text x="633.3" y="494.3" font-size="6.4" font-weight="bold" text-anchor="start" textLength="9" lengthAdjust="spacingAndGlyphs" transform="rotate(45 633.3 494.3)" stroke="#111" stroke-width="0.25">+20</text>
<text x="663.5" y="508" font-size="12" font-weight="bold" text-anchor="start" textLength="13" lengthAdjust="spacingAndGlyphs" transform="rotate(45 663.5 508)" stroke="#111" stroke-width="0.35">85</text>
<text x="674.5" y="516.5" font-size="6.2" font-weight="bold" text-anchor="start" textLength="9" lengthAdjust="spacingAndGlyphs" transform="rotate(45 674.5 516.5)" stroke="#111" stroke-width="0.2">±10</text>
<text x="677" y="501" font-size="12" font-weight="bold" text-anchor="start" textLength="6" lengthAdjust="spacingAndGlyphs" transform="rotate(45 677 501)" stroke="#111" stroke-width="0.35">6</text>
<line x1="675.50" y1="502.10" x2="690.00" y2="516.60" stroke="#111" stroke-width="1.1" />
<polygon points="690.00,516.60 684.63,513.49 686.89,511.23" fill="#111"/>
<line x1="701.90" y1="503.70" x2="688.50" y2="517.50" stroke="#111" stroke-width="1.1" />
<line x1="707.10" y1="509.40" x2="684.30" y2="531.30" stroke="#111" stroke-width="1.1" />
<polygon points="694.50,521.50 699.87,524.61 697.61,526.87" fill="#111"/>
<text x="46.2" y="612.8" font-size="7.8" textLength="96.3" lengthAdjust="spacingAndGlyphs">Alle Maße haben die Einheit mm.</text>
<rect x="42" y="627" width="683.5" height="46.3" fill="none" stroke="#111" stroke-width="1.4"/>
<line x1="42.00" y1="642.40" x2="725.50" y2="642.40" stroke="#111" stroke-width="1.4" />
<line x1="42.00" y1="657.80" x2="725.50" y2="657.80" stroke="#111" stroke-width="1.4" />
<line x1="90.60" y1="627.00" x2="90.60" y2="673.30" stroke="#111" stroke-width="1.4" />
<text x="44.5" y="638.7" font-size="11" font-weight="bold" text-anchor="start">1</text>
<text x="93.2" y="638.7" font-size="10" text-anchor="start" textLength="478.6" lengthAdjust="spacingAndGlyphs">Zubehörteil: Einströmdüse 96358-2-4013 nicht im Lieferumfang enthalten, weitere Einströmdüsen auf Anfrage</text>
<text x="44.5" y="654.0" font-size="11" font-weight="bold" text-anchor="start">2</text>
<text x="93.2" y="654.0" font-size="10" text-anchor="start">Einschraubtiefe max. 5 mm</text>
<text x="44.5" y="669.3000000000001" font-size="11" font-weight="bold" text-anchor="start">3</text>
<text x="93.2" y="669.3000000000001" font-size="10" text-anchor="start">Anschlussleitung PFA AWG20, 4x Aderendkrallen angeschlagen</text>
</svg>
</body></html>
